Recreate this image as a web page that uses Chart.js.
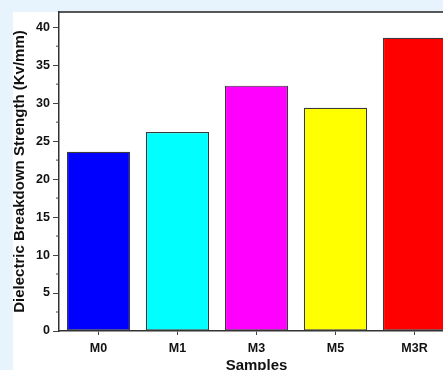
<!DOCTYPE html>
<html>
<head>
<meta charset="utf-8">
<script src="https://cdn.jsdelivr.net/npm/chart.js@4/dist/chart.umd.min.js"></script>
<style>
  html, body { margin: 0; padding: 0; overflow: hidden; background: #e8f4fd; }
  #wrap { position: absolute; left: 0; top: 0; width: 460px; height: 370px; }
</style>
</head>
<body>
<div id="wrap"><canvas id="c" width="460" height="370"></canvas></div>
<script>
// Sample names and their measured dielectric breakdown strength (kV/mm)
const samples = ['M0', 'M1', 'M3', 'M5', 'M3R'];
const strength = [23.6, 26.2, 32.3, 29.4, 38.6];
const barColors = ['#0000ff', '#00ffff', '#ff00ff', '#ffff00', '#ff0000'];
const yTicks = [0, 5, 10, 15, 20, 25, 30, 35, 40];

const FONT = "'Liberation Sans', Arial, Helvetica, sans-serif";
Chart.defaults.font.family = FONT;
Chart.defaults.color = '#111';

// Page backdrop, white panel, top frame line and minor y ticks
const framePlugin = {
  id: 'frame',
  beforeDraw(chart) {
    const ctx = chart.ctx;
    ctx.save();
    ctx.fillStyle = '#e8f4fd';
    ctx.fillRect(0, 0, chart.width, chart.height);
    ctx.fillStyle = '#ffffff';
    ctx.fillRect(13, 12, chart.width - 13, chart.height - 12);
    ctx.restore();
  },
  afterDraw(chart) {
    const ctx = chart.ctx;
    const a = chart.chartArea;
    const y = chart.scales.y;
    ctx.save();
    ctx.strokeStyle = '#222';
    ctx.lineWidth = 1.5;
    ctx.beginPath();
    ctx.moveTo(a.left, a.top);
    ctx.lineTo(a.right, a.top);
    ctx.stroke();
    // minor ticks halfway between the labelled ones
    ctx.strokeStyle = '#444';
    ctx.lineWidth = 1;
    for (let i = 0; i < yTicks.length - 1; i++) {
      const py = y.getPixelForValue((yTicks[i] + yTicks[i + 1]) / 2);
      ctx.beginPath();
      ctx.moveTo(a.left, py);
      ctx.lineTo(a.left - 3, py);
      ctx.stroke();
    }
    ctx.restore();
  }
};

new Chart(document.getElementById('c'), {
  type: 'bar',
  data: {
    labels: samples,
    datasets: [{
      data: strength,
      backgroundColor: barColors,
      borderColor: '#3a3a3a',
      borderWidth: 1.2,
      borderSkipped: false,
      barPercentage: 0.8,
      categoryPercentage: 1.0
    }]
  },
  options: {
    responsive: false,
    animation: false,
    layout: { padding: { top: 12, right: 6, bottom: 0, left: 0 } },
    plugins: { legend: { display: false }, tooltip: { enabled: false } },
    scales: {
      x: {
        grid: { drawOnChartArea: false, drawTicks: true, tickLength: 4, offset: false, color: '#444', lineWidth: 1 },
        border: { display: true, color: '#333', width: 1.5 },
        ticks: { padding: 6, font: { size: 12.5, weight: 'bold' }, color: '#111' },
        title: { display: true, text: 'Samples', font: { size: 15, weight: 'bold', lineHeight: 1 }, padding: { top: 0, bottom: -3 }, color: '#111' },
        afterFit(scale) { scale.height = 39; }
      },
      y: {
        min: 0,
        max: 42,
        afterBuildTicks(scale) { scale.ticks = yTicks.map(v => ({ value: v })); },
        grid: { drawOnChartArea: false, drawTicks: true, tickLength: 6, color: '#444', lineWidth: 1 },
        border: { display: true, color: '#333', width: 1.5 },
        ticks: { padding: 3, font: { size: 12.5, weight: 'bold' }, color: '#111' },
        title: { display: true, text: 'Dielectric Breakdown Strength (Kv/mm)', font: { size: 15, weight: 'bold', lineHeight: 1 }, padding: { top: 12, bottom: 0 }, color: '#111' },
        afterFit(scale) { scale.width = 59; }
      }
    }
  },
  plugins: [framePlugin]
});
</script>
</body>
</html>
